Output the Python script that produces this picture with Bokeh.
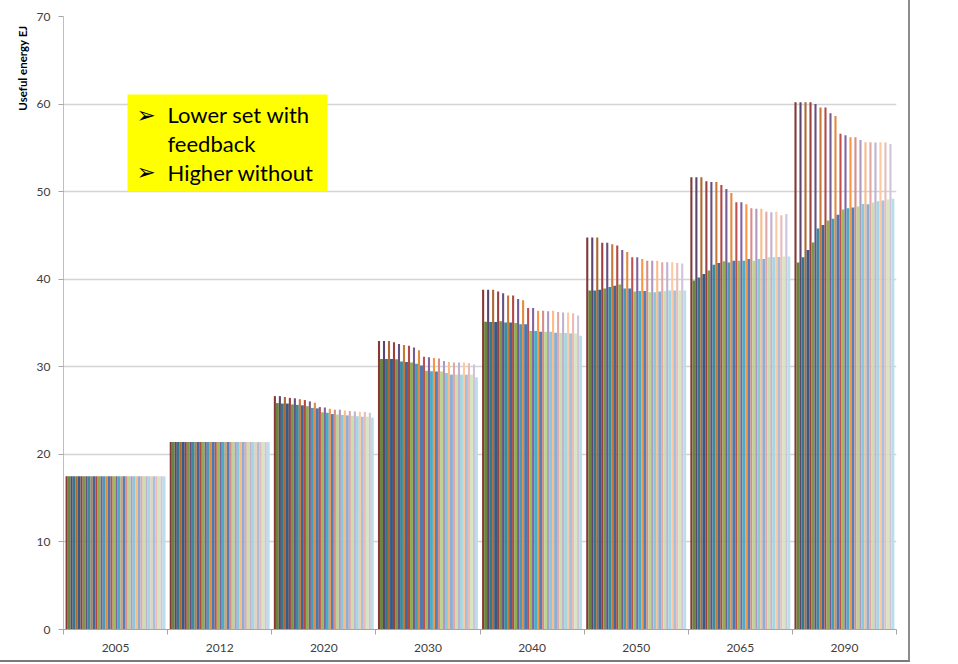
from bokeh.plotting import figure
from bokeh.models import ColumnDataSource, FixedTicker, BoxAnnotation, Label, Range1d, Title
from bokeh.embed import file_html
from bokeh.resources import INLINE

years = ["2005", "2012", "2020", "2030", "2040", "2050", "2065", "2090"]

# Higher set: without feedback (20 scenarios per year)
wo_2005 = [17.5, 17.5, 17.5, 17.5, 17.5, 17.5, 17.5, 17.5, 17.5, 17.5,
           17.5, 17.5, 17.5, 17.5, 17.5, 17.5, 17.5, 17.5, 17.5, 17.5]
wo_2012 = [21.4, 21.4, 21.4, 21.4, 21.4, 21.4, 21.4, 21.4, 21.4, 21.4,
           21.4, 21.4, 21.4, 21.4, 21.4, 21.4, 21.4, 21.4, 21.4, 21.4]
wo_2020 = [26.65, 26.65, 26.55, 26.45, 26.4, 26.3, 26.2, 26.05, 25.9, 25.4,
           25.35, 25.2, 25.1, 25.1, 25.0, 24.95, 24.9, 24.85, 24.85, 24.75]
wo_2030 = [32.95, 32.95, 32.95, 32.8, 32.6, 32.5, 32.4, 32.2, 31.9, 31.15,
           31.1, 31.0, 30.95, 30.65, 30.55, 30.5, 30.5, 30.5, 30.4, 30.25]
wo_2040 = [38.8, 38.8, 38.8, 38.6, 38.4, 38.15, 38.15, 37.75, 37.6, 36.7,
           36.7, 36.4, 36.4, 36.35, 36.4, 36.25, 36.2, 36.2, 36.1, 35.85]
wo_2050 = [44.75, 44.75, 44.75, 44.15, 44.15, 44.0, 43.85, 43.35, 43.1, 42.5,
           42.5, 42.3, 42.1, 42.1, 42.1, 41.95, 41.95, 41.95, 41.85, 41.8]
wo_2065 = [51.65, 51.65, 51.65, 51.2, 51.1, 51.1, 50.75, 50.3, 49.85, 48.8,
           48.8, 48.55, 48.1, 48.05, 48.05, 47.7, 47.65, 47.7, 47.3, 47.45]
wo_2090 = [60.2, 60.2, 60.2, 60.2, 60.0, 59.6, 59.6, 58.95, 58.65, 56.6,
           56.45, 56.2, 56.2, 55.9, 55.65, 55.65, 55.6, 55.65, 55.6, 55.45]

# Lower set: with feedback
wf_2005 = [17.5, 17.5, 17.5, 17.5, 17.5, 17.5, 17.5, 17.5, 17.5, 17.5,
           17.5, 17.5, 17.5, 17.5, 17.5, 17.5, 17.5, 17.5, 17.5, 17.5]
wf_2012 = [21.4, 21.4, 21.4, 21.4, 21.4, 21.4, 21.4, 21.4, 21.4, 21.4,
           21.4, 21.4, 21.4, 21.4, 21.4, 21.4, 21.4, 21.4, 21.4, 21.4]
wf_2020 = [25.85, 25.8, 25.8, 25.7, 25.65, 25.6, 25.5, 25.3, 25.25, 24.8,
           24.75, 24.6, 24.55, 24.5, 24.45, 24.4, 24.35, 24.3, 24.3, 24.2]
wf_2030 = [30.9, 30.9, 30.9, 30.85, 30.6, 30.55, 30.5, 30.35, 30.15, 29.55,
           29.5, 29.45, 29.45, 29.3, 29.1, 29.1, 29.1, 29.1, 29.1, 28.8]
wf_2040 = [35.15, 35.1, 35.1, 35.2, 35.05, 35.05, 35.0, 34.85, 34.85, 34.1,
           34.1, 34.0, 34.0, 34.0, 33.9, 33.85, 33.85, 33.8, 33.8, 33.55]
wf_2050 = [38.7, 38.7, 38.8, 38.95, 39.1, 39.25, 39.4, 38.95, 38.95, 38.6,
           38.65, 38.65, 38.5, 38.5, 38.6, 38.65, 38.7, 38.7, 38.7, 38.7]
wf_2065 = [39.85, 40.2, 40.6, 41.0, 41.65, 41.85, 42.05, 41.9, 42.1, 42.1,
           42.1, 42.3, 42.1, 42.3, 42.3, 42.5, 42.5, 42.55, 42.6, 42.6]
wf_2090 = [41.9, 42.5, 43.35, 44.2, 45.8, 46.2, 46.7, 46.9, 47.35, 47.95,
           48.1, 48.2, 48.3, 48.6, 48.55, 48.75, 48.9, 49.0, 49.1, 49.2]

without_fb = [wo_2005, wo_2012, wo_2020, wo_2030, wo_2040, wo_2050, wo_2065, wo_2090]
with_fb = [wf_2005, wf_2012, wf_2020, wf_2030, wf_2040, wf_2050, wf_2065, wf_2090]

# Excel-like palette (hue cycle per series, shade per scenario group)
hues = [(192, 80, 77), (155, 187, 89), (128, 100, 162),
        (75, 172, 198), (247, 150, 70), (79, 129, 189)]
shades = [-0.30, -0.20, -0.08, 0.0, 0.35, 0.50, 0.62]


def shade(rgb, f):
    if f < 0:
        c = [int(round(v * (1 + f))) for v in rgb]
    else:
        c = [int(round(v + (255 - v) * f)) for v in rgb]
    return "#%02x%02x%02x" % tuple(c)


n = 20
group = 0.96
slot = group / n
hi_frac, lo_frac = 0.42, 0.58

xs, tops, ws, cols = [], [], [], []
for c in range(len(years)):
    left = c + (1 - group) / 2
    for i in range(n):
        k_hi, k_lo = 2 * i, 2 * i + 1
        lvl = shades[i // 3]
        xs.append(left + i * slot + slot * hi_frac / 2)
        tops.append(without_fb[c][i])
        ws.append(slot * hi_frac)
        cols.append(shade(hues[k_hi % 6], lvl))
        xs.append(left + i * slot + slot * hi_frac + slot * lo_frac / 2)
        tops.append(with_fb[c][i])
        ws.append(slot * lo_frac)
        cols.append(shade(hues[k_lo % 6], lvl))

src = ColumnDataSource(dict(x=xs, top=tops, w=ws, color=cols))

p = figure(frame_width=833, frame_height=613,
           x_range=Range1d(0, 8), y_range=Range1d(0, 70),
           output_backend="svg", toolbar_location=None,
           min_border_left=63, min_border_right=12, min_border_top=16, min_border_bottom=31)
p.outline_line_color = None
p.background_fill_color = "white"
p.styles = {"border-right": "2px solid #8c8c8c", "border-bottom": "2px solid #7a7a7a"}

p.vbar(x="x", top="top", width="w", bottom=0, fill_color="color", line_color=None, source=src)

# x axis
centers = [i + 0.5 for i in range(len(years))]
p.xaxis.ticker = FixedTicker(ticks=centers, minor_ticks=list(range(len(years) + 1)))
p.xaxis.major_label_overrides = {c: y for c, y in zip(centers, years)}
p.xaxis.major_tick_line_color = None
p.xaxis.minor_tick_out = 5
p.xaxis.minor_tick_in = 0
p.xaxis.minor_tick_line_color = "#a6a6a6"
p.xaxis.axis_line_color = "#a6a6a6"
p.xaxis.major_label_standoff = 8
p.xaxis.major_label_text_font = "Lato"
p.xaxis.major_label_text_font_size = "12px"
p.xaxis.major_label_text_color = "#404040"
p.xgrid.visible = False

# y axis
p.yaxis.ticker = FixedTicker(ticks=[0, 10, 20, 30, 40, 50, 60, 70])
p.yaxis.major_tick_out = 5
p.yaxis.major_tick_in = 0
p.yaxis.minor_tick_line_color = None
p.yaxis.major_tick_line_color = "#a6a6a6"
p.yaxis.axis_line_color = "#bfbfbf"
p.yaxis.major_label_standoff = 8
p.yaxis.major_label_text_font = "Lato"
p.yaxis.major_label_text_font_size = "12px"
p.yaxis.major_label_text_color = "#404040"
p.ygrid.grid_line_color = "#d4d4d4"
p.ygrid.grid_line_width = 1.5

p.add_layout(Title(text="Useful energy EJ", align="right", offset=9, standoff=10,
                   text_font="Lato", text_font_style="bold", text_font_size="11.5px",
                   text_color="black"), "left")

# Yellow note box
p.add_layout(BoxAnnotation(left=0.615, right=2.535, bottom=50.02, top=61.09,
                           fill_color="#ffff00", fill_alpha=1.0, line_color=None))
note_lines = [("\u27a2", "Lower set with", 58.8), (None, "feedback", 55.5),
              ("\u27a2", "Higher without", 52.19)]
for bullet, txt, yy in note_lines:
    if bullet:
        p.add_layout(Label(x=0.70, y=yy, text=bullet, text_align="left", text_baseline="middle",
                           text_font="DejaVu Sans", text_font_size="23px", text_color="black"))
    p.add_layout(Label(x=0.999, y=yy, text=txt, text_align="left", text_baseline="middle",
                       text_font="Lato", text_font_size="22px", text_color="black"))

open("out.html", "w").write(file_html(p, INLINE))
